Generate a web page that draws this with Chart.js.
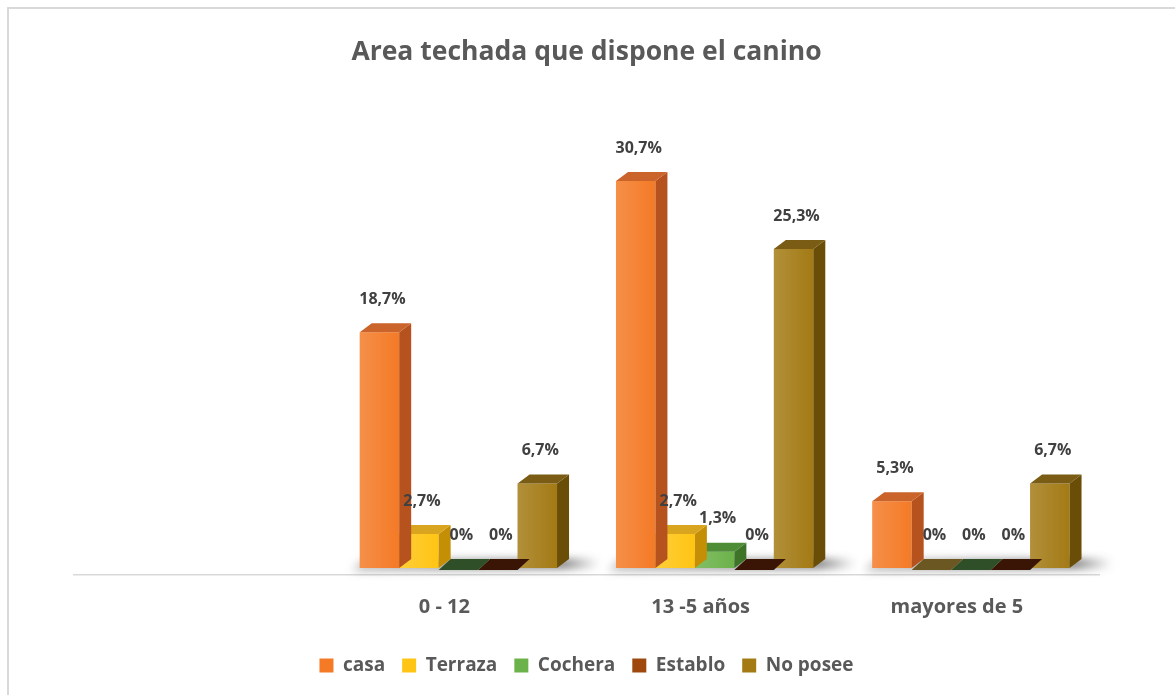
<!DOCTYPE html>
<html>
<head>
<meta charset="utf-8">
<script src="https://cdn.jsdelivr.net/npm/chart.js@4/dist/chart.umd.min.js"></script>
<style>
  html, body { margin: 0; padding: 0; background: #ffffff; overflow: hidden; }
  #frame { position: absolute; left: 7px; top: 7px; width: 1200px; height: 720px; border: 2px solid #d9d9d9; }
  #c { position: absolute; left: 0; top: 0; }
</style>
</head>
<body>
<div id="frame"></div>
<canvas id="c" width="1175" height="695"></canvas>
<script>
// ---- data ----
const chartTitle = 'Area techada que dispone el canino';
const categories = ['', '0 - 12', '13 -5 años', 'mayores de 5'];
const seriesNames = ['casa', 'Terraza', 'Cochera', 'Establo', 'No posee'];
const casa    = [null, 18.7, 30.7, 5.3];
const terraza = [null, 2.7, 2.7, 0];
const cochera = [null, 0, 1.3, 0];
const establo = [null, 0, 0, 0];
const noPosee = [null, 6.7, 25.3, 6.7];

// ---- styles ----
const frontColors = ['#F47A26', '#FFC514', '#6CB24A', '#9E480E', '#A37A14'];
const topColors   = ['#CB642B', '#D9A41E', '#4E8C36', '#5E2306', '#7B5C14'];
const sideColors  = ['#B5521E', '#C48F05', '#3E7428', '#4A1A04', '#6A4E08'];
const flatColors  = ['#7a3d1a', '#6b5722', '#2f4f28', '#3a1405', '#4d3a0c'];
const DX = 12, DY = 9;

const seriesData = [casa, terraza, cochera, establo, noPosee];

function fmt(v) {
  if (v === 0) return '0%';
  return v.toFixed(1).replace('.', ',') + '%';
}

const shadowPlugin = {
  id: 'shadow3d',
  beforeDatasetsDraw(chart) {
    const ctx = chart.ctx;
    const first = chart.getDatasetMeta(0).data;
    const last = chart.getDatasetMeta(chart.data.datasets.length - 1).data;
    ctx.save();
    for (let i = 0; i < first.length; i++) {
      if (chart.data.datasets[0].data[i] == null) continue;
      const l = first[i].x - first[i].width / 2;
      const r = last[i].x + last[i].width / 2;
      const b = first[i].base;
      ctx.filter = 'blur(5px)';
      const g = ctx.createLinearGradient(l, 0, r + DX + 30, 0);
      g.addColorStop(0, 'rgba(60,60,60,0.35)');
      g.addColorStop(0.85, 'rgba(30,30,30,0.75)');
      g.addColorStop(1, 'rgba(30,30,30,0.0)');
      ctx.fillStyle = g;
      ctx.beginPath();
      ctx.moveTo(l - 8, b + 3);
      ctx.lineTo(r + DX + 30, b - 1);
      ctx.lineTo(r + DX + 30, b - DY + 1);
      ctx.lineTo(l + 4, b - DY + 1);
      ctx.closePath();
      ctx.fill();
    }
    ctx.restore();
  }
};

const bar3dPlugin = {
  id: 'bar3d',
  afterDatasetDraw(chart, args) {
    const di = args.index;
    const meta = args.meta;
    const ctx = chart.ctx;
    ctx.save();
    meta.data.forEach((el, i) => {
      const v = chart.data.datasets[di].data[i];
      if (v == null) return;
      const l = el.x - el.width / 2, r = el.x + el.width / 2;
      const t = el.y, b = el.base;
      const flat = (b - t) < 1;
      if (!flat) {
        const g = ctx.createLinearGradient(l, 0, r, 0);
        g.addColorStop(0, 'rgba(255,255,255,0.16)');
        g.addColorStop(1, 'rgba(255,255,255,0)');
        ctx.fillStyle = g;
        ctx.fillRect(l, t, r - l, b - t);
      }
      // side face
      ctx.fillStyle = flat ? flatColors[di] : sideColors[di];
      ctx.beginPath();
      ctx.moveTo(r, t);
      ctx.lineTo(r + DX, t - DY);
      ctx.lineTo(r + DX, b - DY);
      ctx.lineTo(r, b);
      ctx.closePath();
      ctx.fill();
      // top face
      ctx.fillStyle = flat ? flatColors[di] : topColors[di];
      ctx.beginPath();
      ctx.moveTo(l, t + (flat ? 2 : 0));
      ctx.lineTo(l + DX, t - DY);
      ctx.lineTo(r + DX, t - DY);
      ctx.lineTo(r, t + (flat ? 2 : 0));
      ctx.closePath();
      ctx.fill();
    });
    ctx.restore();
  }
};

const labelPlugin = {
  id: 'valueLabels',
  afterDatasetsDraw(chart) {
    const ctx = chart.ctx;
    ctx.save();
    ctx.font = 'bold 16px "Open Sans"';
    ctx.fillStyle = '#404040';
    ctx.textAlign = 'center';
    ctx.textBaseline = 'middle';
    chart.data.datasets.forEach((ds, di) => {
      chart.getDatasetMeta(di).data.forEach((el, i) => {
        const v = ds.data[i];
        if (v == null) return;
        ctx.fillText(fmt(v), el.x + 3, el.y - 33);
      });
    });
    ctx.restore();
  }
};

new Chart(document.getElementById('c'), {
  type: 'bar',
  data: {
    labels: categories,
    datasets: seriesNames.map((n, k) => ({
      label: n,
      data: seriesData[k],
      backgroundColor: frontColors[k],
      borderWidth: 0,
      categoryPercentage: 0.77,
      barPercentage: 1
    }))
  },
  options: {
    responsive: false,
    animation: false,
    layout: { padding: { left: 74, right: 76, top: 0, bottom: 10 } },
    scales: {
      y: { display: false, min: -0.55, max: 35 },
      x: {
        grid: { display: false, drawTicks: false },
        border: { display: true, color: '#d9d9d9', width: 1.5 },
        ticks: {
          padding: 20,
          labelOffset: -14,
          color: '#595959',
          font: { family: 'Open Sans', size: 20, weight: 'bold' }
        }
      }
    },
    plugins: {
      title: {
        display: true,
        text: chartTitle,
        color: '#595959',
        font: { family: 'Open Sans', size: 26.5, weight: 'bold' },
        padding: { top: 37, bottom: 58 }
      },
      legend: {
        position: 'bottom',
        labels: {
          boxWidth: 14,
          boxHeight: 14,
          padding: 17,
          color: '#595959',
          font: { family: 'Open Sans', size: 19, weight: 'bold' }
        }
      },
      tooltip: { enabled: false }
    }
  },
  plugins: [shadowPlugin, bar3dPlugin, labelPlugin]
});
</script>
</body>
</html>
